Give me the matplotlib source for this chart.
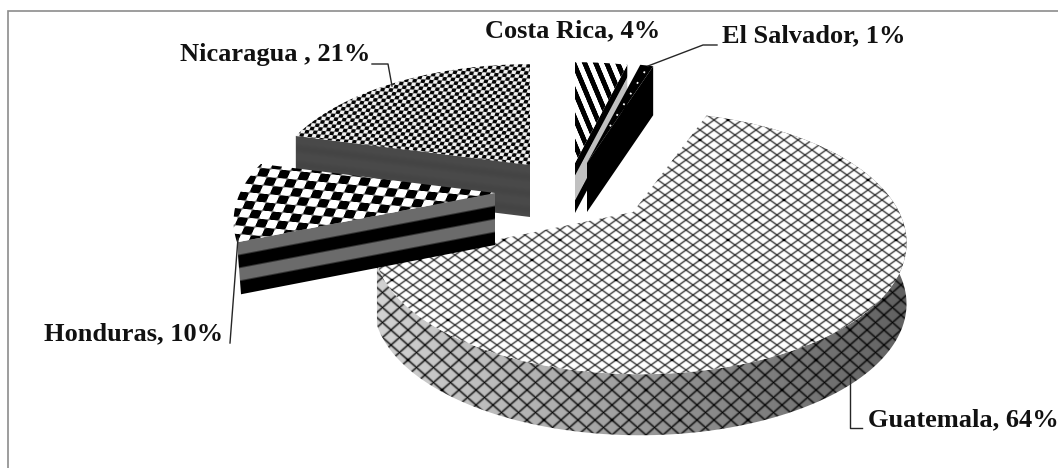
import numpy as np
import matplotlib
matplotlib.use('Agg')
import matplotlib.pyplot as plt
from matplotlib.patches import Polygon

plt.rcParams['font.family'] = ['Liberation Serif', 'DejaVu Serif']

# chart values
categories = ['Costa Rica', 'El Salvador', 'Guatemala', 'Honduras', 'Nicaragua']
shares = [4, 1, 64, 10, 21]
label_names = ['Costa Rica, 4%', 'El Salvador, 1%', 'Guatemala, 64%', 'Honduras, 10%', 'Nicaragua , 21%']

W, H = 1058, 468
RX, RY, PERSP = 255.0, 123.0, 0.22

# slice layout in pixels: apex of the wedge, centre of its arc, depth of the side
layout = {
    'Costa Rica': dict(apex=(575, 163), centre=(575, 163), depth=50),
    'El Salvador': dict(apex=(587, 163), centre=(588, 163), depth=49),
    'Guatemala': dict(apex=(633, 212), centre=(640, 214), depth=61, rx=260, ry=125),
    'Honduras': dict(apex=(495, 193), centre=(495, 193), depth=52),
    'Nicaragua': dict(apex=(530, 165), centre=(530, 165), depth=52),
}

fig = plt.figure(figsize=(W / 100, H / 100), dpi=100)
ax = fig.add_axes([0, 0, 1, 1])
ax.set_xlim(0, W)
ax.set_ylim(H, 0)
ax.axis('off')

X, Y = np.meshgrid(np.arange(W) + 0.5, np.arange(H) + 0.5)


def project(deg, centre, rx=RX, ry=RY):
    # clockwise from 12 o'clock on a tilted disc, far side shrinks
    t = np.radians(deg)
    u, v = np.sin(t), np.cos(t)
    w = 1 + PERSP * v
    return np.column_stack([centre[0] + rx * u / w, centre[1] - ry * v / w])


def paint(tex, pts, z):
    im = ax.imshow(tex, cmap='gray', vmin=0, vmax=1, extent=(0, W, H, 0), aspect='auto',
                   interpolation='bilinear', zorder=z)
    im.set_clip_path(Polygon(pts, closed=True, transform=ax.transData))


def ridge(a, width):
    d = np.abs(a - np.round(a))
    return np.exp(-(d / width) ** 2)


def lattice(px, py, width):
    # diamond net: lines, plus the knots where they cross (stronger every 4th cell)
    a = X / px + Y / py
    b = X / px - Y / py
    ra, rb = ridge(a, width), ridge(b, width)
    knots = ra * rb
    big = ridge(a / 4, 0.04) * ridge(b / 4, 0.04)
    return np.maximum(ra, rb), knots, big


def checker(a, b, gain):
    s = np.sin(np.pi * a) * np.sin(np.pi * b)
    return np.clip(0.5 + s * gain, 0, 1)


def bands(p, colours):
    # colours spread evenly over the height of a side face
    edges = np.linspace(0, 1, len(colours) + 1)
    xp, fp = [], []
    for i, c in enumerate(colours):
        xp += [edges[i] + 0.02, edges[i + 1] - 0.02]
        fp += [c, c]
    return np.interp(p, xp, fp)


def phase(p0, p1, depth):
    slope = (p1[1] - p0[1]) / (p1[0] - p0[0])
    return (Y - (p0[1] + slope * (X - p0[0]))) / depth


# wedge angles come from the shares
stops = np.cumsum([0] + shares) * 3.6
spans = {c: (stops[i], stops[i + 1]) for i, c in enumerate(categories)}


def wedge(name):
    a0, a1 = spans[name]
    cfg = layout[name]
    arc = project(np.linspace(a0, a1, 160), cfg['centre'], cfg.get('rx', RX), cfg.get('ry', RY))
    return np.array(cfg['apex'], float), arc, cfg['depth']


# Guatemala
apex, arc, depth = wedge('Guatemala')
shade = np.interp(X, [378, 560, 700, 905], [0.82, 0.68, 0.55, 0.38])
lines, knots, big = lattice(17.0, 15.0, 0.10)
tex = shade * (1 - 0.72 * lines - 0.25 * knots - 0.3 * big)
paint(np.clip(tex, 0, 1), np.vstack([arc, arc[::-1] + [0, depth]]), 2)
lines, knots, big = lattice(14.0, 10.0, 0.115)
tex = 1 - 0.66 * lines - 0.2 * knots - 0.5 * big
paint(np.clip(tex, 0, 1), np.vstack([[apex], arc]), 3)

# Nicaragua
apex, arc, depth = wedge('Nicaragua')
side = [arc[0], apex, apex + [0, depth], arc[0] + [0, depth]]
tex = 0.28 + 0.012 * np.sin(phase(arc[0], apex, depth) * 20)
paint(tex, side, 4)
tex = checker((X + 0.3 * Y) / 4.2, (Y - 0.06 * X) / 3.6, 1.4) * 0.92 + 0.02
paint(tex, np.vstack([[apex], arc]), 5)

# Honduras
apex, arc, depth = wedge('Honduras')
front = arc[0]
side = [front, apex, apex + [0, depth], front + [4, depth]]
paint(bands(phase(front, apex, depth), [0.42, 0.0, 0.42, 0.0]), side, 6)
tex = checker((X + 0.45 * Y) / 10.5, (Y - 0.09 * X) / 8.5, 4)
paint(tex, np.vstack([[apex], arc]), 7)

# Costa Rica
apex, arc, depth = wedge('Costa Rica')
edge = arc[-1]
side = [apex, edge, edge + [0, depth], apex + [0, depth]]
paint(bands(phase(apex, edge, depth), [0.0, 0.75, 0.75, 0.0]), side, 8)
tex = np.clip(0.5 + 2.5 * np.sin(2 * np.pi * (X - 0.42 * Y) / 11.0), 0, 1)
paint(tex, np.vstack([[apex], arc]), 9)

# El Salvador
apex, arc, depth = wedge('El Salvador')
edge = arc[-1]
side = [apex, edge, edge + [0, depth], apex + [0, depth]]
ax.add_patch(Polygon(side, closed=True, fc='black', ec='none', zorder=10))
ax.add_patch(Polygon(np.vstack([[apex], arc]), closed=True, fc='black', ec='none', zorder=11))
mid = arc[len(arc) // 2]
ax.plot([mid[0] - 2, apex[0] + 20], [mid[1] + 6, apex[1] - 32], color='white', lw=1.3,
        ls=(0, (1, 6)), zorder=12)

# frame of the chart area
ax.plot([8, 8, W], [H, 11, 11], color='#8c8c8c', lw=1.2, zorder=1, solid_joinstyle='miter')

# leaders
leaders = {
    'Nicaragua': ([372, 388, 392], [64, 64, 86]),
    'Honduras': ([230, 238], [343, 238]),
    'El Salvador': ([717, 703, 648], [45, 45, 66]),
    'Guatemala': ([862, 850, 850], [428, 428, 377]),
}
for xs, ys in leaders.values():
    ax.plot(xs, ys, color='#262626', lw=1.0, zorder=13)

# labels
label_pos = [(485, 31), (722, 36), (868, 420), (44, 334), (180, 54)]
for txt, (lx, ly) in zip(label_names, label_pos):
    ax.text(lx, ly, txt, ha='left', va='center', fontsize=19, fontweight='bold', color='#111111', zorder=14)

fig.savefig('out.png', dpi=100)
